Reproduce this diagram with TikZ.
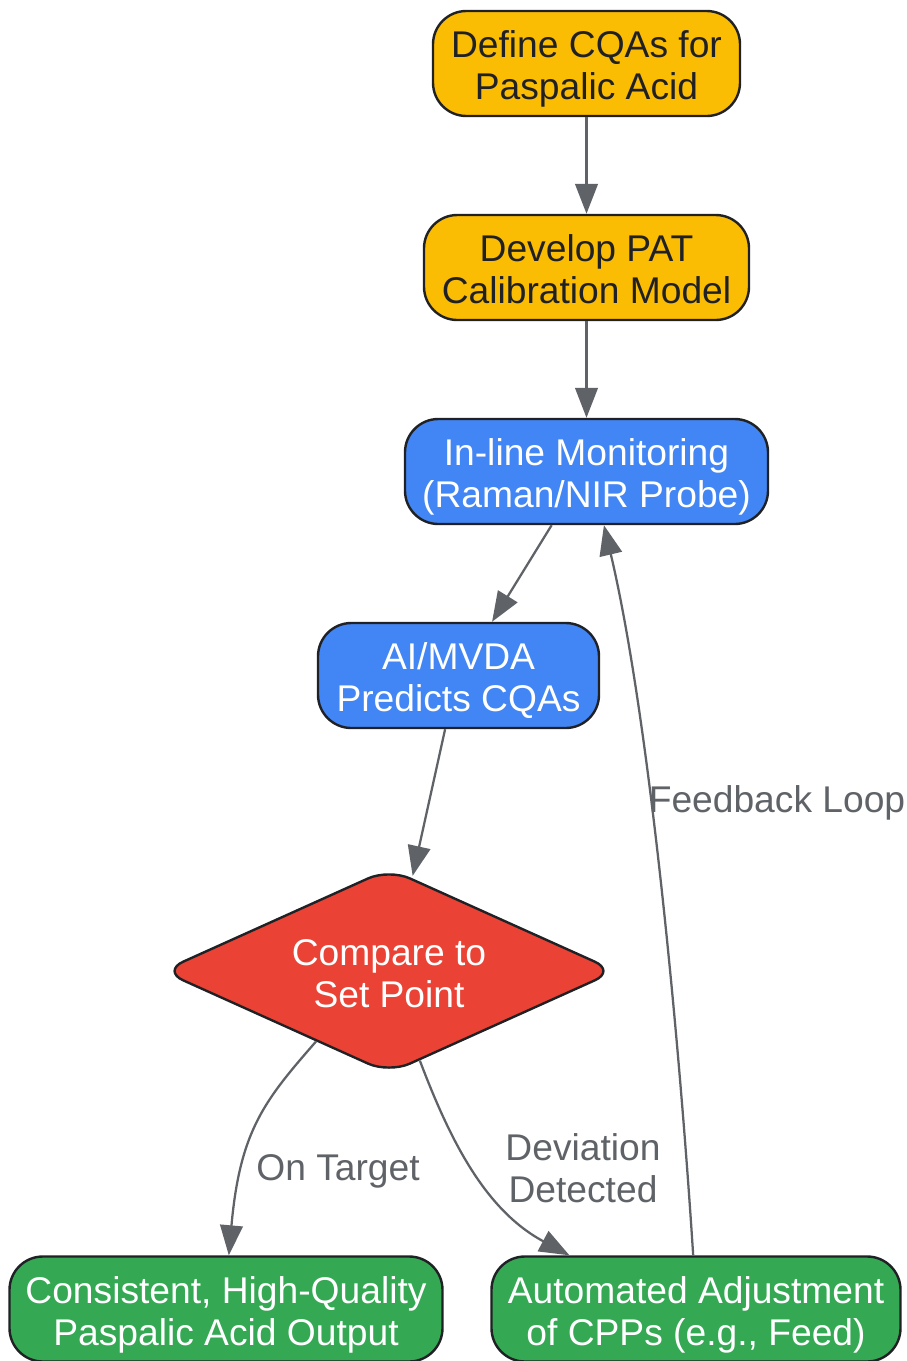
\documentclass[tikz,border=0pt]{standalone}
\usepackage{fontspec}
\setmainfont{Liberation Sans}
\usetikzlibrary{arrows.meta,shapes.geometric}
\definecolor{cy}{HTML}{FBBC04}
\definecolor{cb}{HTML}{4285F4}
\definecolor{cr}{HTML}{EA4335}
\definecolor{cg}{HTML}{34A853}
\definecolor{ln}{HTML}{5F6368}
\definecolor{bd}{HTML}{202124}
\newcommand{\tp}{\rule{0pt}{30.9pt}}
\newcommand{\bt}{\rule[-8pt]{0pt}{8pt}}
\newcommand{\dtp}{\rule{0pt}{30.9pt}}
\tikzset{x=0.75pt,y=-0.75pt,
 box/.style={draw=bd,line width=1.8pt,rounded corners=25pt,inner sep=0pt,align=center,font=\fontsize{27.9}{31.5}\selectfont},
 blk/.style={text=bd},
 wht/.style={text=white},
 dia/.style={shape=diamond,aspect=2.2136,draw=bd,line width=1.8pt,fill=cr,rounded corners=17pt,inner sep=0pt,text=white,align=center,font=\fontsize{27.9}{31.5}\selectfont,minimum width=454*0.75pt,minimum height=205*0.75pt},
 conn/.style={draw=ln,line width=1.7pt,-{Triangle[length=22.5pt,width=17pt]}},
 lbl/.style={text=ln,align=center,inner sep=0pt,font=\fontsize{27.9}{31.5}\selectfont}}
\newcommand{\bx}[7]{\node[box,#1,fill=#2,minimum width=#3*0.75pt,minimum height=#4*0.75pt] (#5) at (#6) {\tp #7\bt};}
\begin{document}
\begin{tikzpicture}
\useasboundingbox (0,0) rectangle (907,1361);
\bx{blk}{cy}{307}{105}{a}{586.5,63.5}{Define CQAs for\\Paspalic Acid}
\bx{blk}{cy}{325}{105}{b}{586.5,267.5}{Develop PAT\\Calibration Model}
\bx{wht}{cb}{363}{105}{c}{586.5,471.5}{In-line Monitoring\\(Raman/NIR Probe)}
\bx{wht}{cb}{281}{105}{d}{458.5,675.5}{AI/MVDA\\Predicts CQAs}
\bx{wht}{cg}{433}{105}{f}{226,1309}{Consistent, High-Quality\\Paspalic Acid Output}
\bx{wht}{cg}{409}{105}{g}{696,1309}{Automated Adjustment\\of CPPs (e.g., Feed)}
\node[dia] (e) at (389,971) {\dtp Compare to\\Set Point\bt};
\draw[conn] (a.south) -- (b.north);
\draw[conn] (b.south) -- (c.north);
\draw[conn] (c.237.4) -- (d.58.9);
\draw[conn,shorten >=1.5pt] (d.256.2) -- (e.76.6);
\draw[conn] (e.224.8) .. controls (265,1100) and (240,1130) .. (f.87.9);
\draw[conn] (e.-71.4) .. controls (450,1140) and (485,1210) .. (g.157.9);
\draw[conn] (g.93.9) .. controls (680,1050) and (650,720) .. (c.288.8);
\node[lbl] (l1) at (338,1171) {On Target};
\node[lbl] (l2) at (583,1168) {Deviation\\Detected};
\node[lbl] (l3) at (777,802.5) {Feedback Loop};
\end{tikzpicture}
\end{document}
